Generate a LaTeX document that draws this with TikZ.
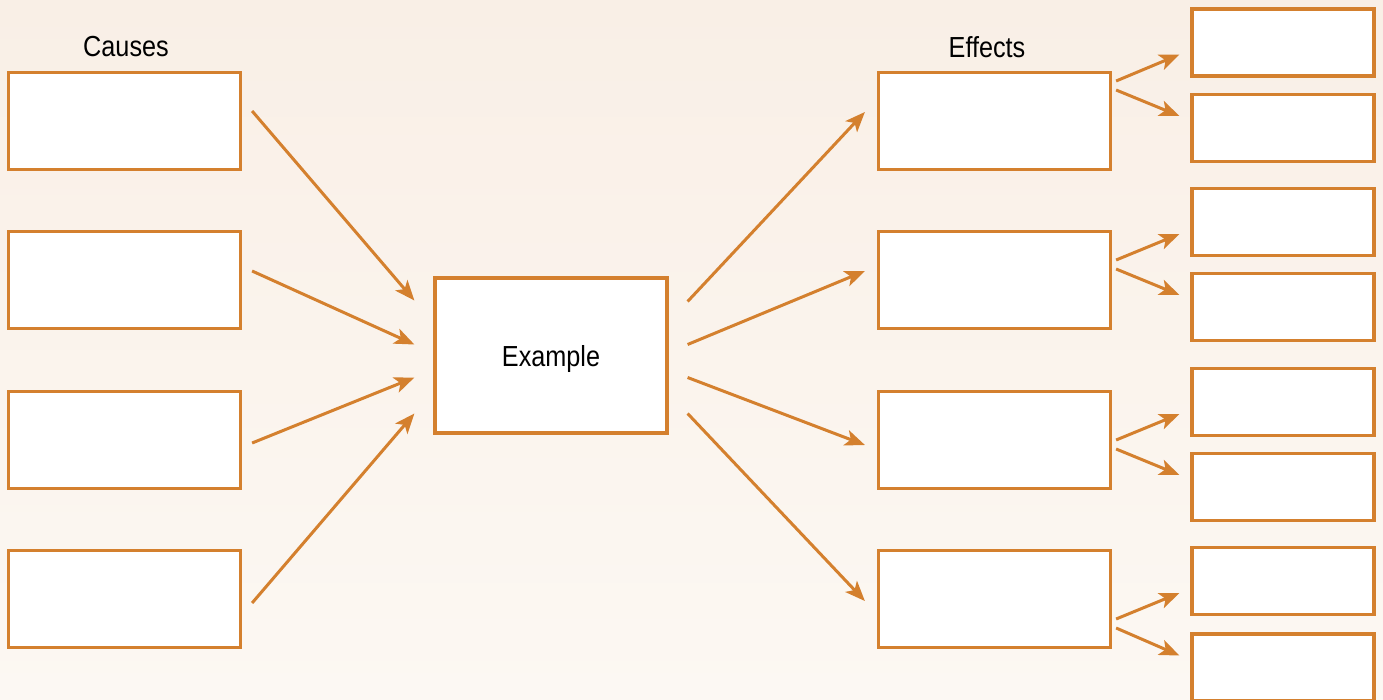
\documentclass[tikz,border=0pt]{standalone}
\usepackage{fontspec}
\setmainfont{Liberation Sans}[FakeStretch=0.87]
\usepackage{xcolor}
\usetikzlibrary{arrows.meta}

\definecolor{boxorange}{HTML}{D4802E}
\definecolor{bgtop}{HTML}{F9EFE6}
\definecolor{bgbottom}{HTML}{FCF8F3}

\tikzset{
  box/.style={draw=boxorange, line width=3.2pt, fill=white, inner sep=0pt},
  bigbox/.style={box, minimum width=232pt, minimum height=97pt},
  smallbox/.style={box, minimum width=182pt, minimum height=67pt},
  arr/.style={draw=boxorange, line width=3pt, -{Stealth[length=20pt,width=16pt,inset=5pt]}},
  label/.style={font=\fontsize{29}{34}\selectfont}
}

\begin{document}
\begin{tikzpicture}[x=1pt,y=-1pt]
\useasboundingbox (0,0) rectangle (1383,699);
\shade[top color=bgtop, bottom color=bgbottom] (0,0) rectangle (1383,699);

% causes
\node[label] (causes) at (126,47) {Causes};
\node[bigbox] (c1) at (124.5,121) {};
\node[bigbox] (c2) at (124.5,280) {};
\node[bigbox] (c3) at (124.5,440) {};
\node[bigbox] (c4) at (124.5,599) {};

% example
\node[box, minimum width=232pt, minimum height=155pt, label, text depth=0pt] (ex) at (551,355.5) {Example};

% effects
\node[label] (effects) at (987,47) {Effects};
\node[bigbox] (e1) at (994.5,121) {};
\node[bigbox] (e2) at (994.5,280) {};
\node[bigbox] (e3) at (994.5,440) {};
\node[bigbox] (e4) at (994.5,599) {};

% further effects
\node[smallbox] (s1) at (1283,42.5) {};
\node[smallbox] (s2) at (1283,128) {};
\node[smallbox] (s3) at (1283,222) {};
\node[smallbox] (s4) at (1283,307) {};
\node[smallbox] (s5) at (1283,402) {};
\node[smallbox] (s6) at (1283,487) {};
\node[smallbox] (s7) at (1283,581) {};
\node[smallbox] (s8) at (1283,667.5) {};

% causes -> example
\draw[arr] ([xshift=10pt,yshift=10pt]c1.east) -- ([xshift=-19pt,yshift=55pt]ex.west);
\draw[arr] ([xshift=10pt,yshift=9pt]c2.east) -- ([xshift=-19pt,yshift=11pt]ex.west);
\draw[arr] ([xshift=10pt,yshift=-3pt]c3.east) -- ([xshift=-19pt,yshift=-22pt]ex.west);
\draw[arr] ([xshift=10pt,yshift=-4pt]c4.east) -- ([xshift=-19pt,yshift=-58pt]ex.west);

% example -> effects
\draw[arr] ([xshift=19pt,yshift=54pt]ex.east) -- ([xshift=-12pt,yshift=9pt]e1.west);
\draw[arr] ([xshift=19pt,yshift=11pt]ex.east) -- ([xshift=-12pt,yshift=9pt]e2.west);
\draw[arr] ([xshift=19pt,yshift=-22pt]ex.east) -- ([xshift=-12pt,yshift=-5pt]e3.west);
\draw[arr] ([xshift=19pt,yshift=-58pt]ex.east) -- ([xshift=-12pt,yshift=-2pt]e4.west);

% effects -> further effects
\draw[arr] ([xshift=4pt,yshift=40pt]e1.east) -- ([xshift=-11pt,yshift=-12pt]s1.west);
\draw[arr] ([xshift=4pt,yshift=31pt]e1.east) -- ([xshift=-11pt,yshift=12pt]s2.west);
\draw[arr] ([xshift=4pt,yshift=20pt]e2.east) -- ([xshift=-11pt,yshift=-12pt]s3.west);
\draw[arr] ([xshift=4pt,yshift=11pt]e2.east) -- ([xshift=-11pt,yshift=12pt]s4.west);
\draw[arr] ([xshift=4pt,yshift=0pt]e3.east) -- ([xshift=-11pt,yshift=-12pt]s5.west);
\draw[arr] ([xshift=4pt,yshift=-9pt]e3.east) -- ([xshift=-11pt,yshift=12pt]s6.west);
\draw[arr] ([xshift=4pt,yshift=-20pt]e4.east) -- ([xshift=-11pt,yshift=-12pt]s7.west);
\draw[arr] ([xshift=4pt,yshift=-29pt]e4.east) -- ([xshift=-11pt,yshift=12pt]s8.west);
\end{tikzpicture}
\end{document}
